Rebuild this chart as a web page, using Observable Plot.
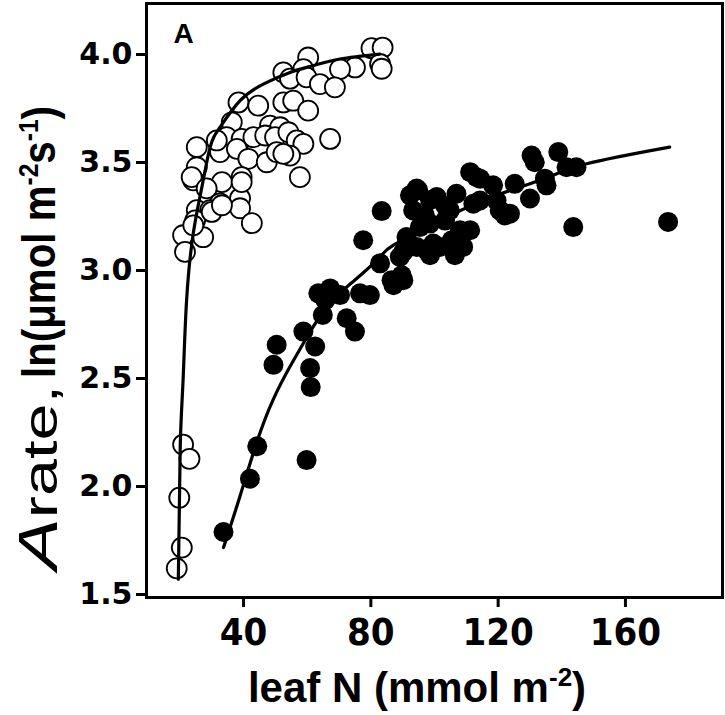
<!DOCTYPE html>
<html>
<head>
<meta charset="utf-8">
<script src="https://cdn.jsdelivr.net/npm/d3@7"></script>
<script src="https://cdn.jsdelivr.net/npm/@observablehq/plot@0.6"></script>
<style>
  html, body { margin: 0; padding: 0; background: #fff; }
  #chart svg { display: block; }
</style>
</head>
<body>
<div id="chart"></div>
<script>
// Open circles: leaf N (mmol m-2) and Arate
const openN = [80.2,83.7,82.9,83.4,75.0,70.3,60.3,58.8,52.5,54.6,59.8,64.0,68.7,38.4,44.6,52.5,55.6,60.3,36.3,48.3,51.5,34.7,39.4,43.1,46.8,49.9,54.1,56.7,58.8,67.2,25.3,32.6,37.9,41.5,47.3,50.4,54.6,52.5,25.3,39.4,57.7,31.6,24.2,33.2,23.7,28.4,25.3,32.6,29.5,38.9,38.9,42.6,21.0,27.3,21.6,24.8,30.0,33.2,24.2,39.4,21.0,23.0,19.8,20.6,19.0];
const openA = [4.043,4.046,3.970,3.948,3.954,3.946,4.000,3.946,3.931,3.902,3.908,3.877,3.862,3.792,3.777,3.792,3.800,3.754,3.700,3.685,3.677,3.631,3.623,3.631,3.639,3.631,3.654,3.616,3.600,3.623,3.585,3.562,3.577,3.531,3.515,3.562,3.546,3.554,3.492,3.446,3.446,3.616,3.431,3.423,3.446,3.394,3.293,3.325,3.293,3.348,3.302,3.233,3.177,3.168,3.100,3.246,3.285,3.316,3.223,3.423,2.208,2.142,1.962,1.731,1.635];

// Filled circles
const filledN = [33.7,42.0,44.3,59.8,50.4,49.4,60.9,61.1,58.8,62.5,64.9,65.7,67.2,72.4,75.0,76.6,79.7,87.1,90.2,83.4,77.6,82.9,86.5,94.9,93.3,98.6,91.2,97.5,63.5,70.3,94.4,100.7,106.9,90.2,89.7,98.6,101.7,108.0,112.2,111.2,113.2,118.4,119.5,122.1,125.2,130.0,130.5,134.7,138.9,141.5,144.6,143.6,173.4,109.0,103.3,99.6,105.4,114.3,120.5,123.7,131.5,135.2,95.4,94.4,89.1,97.0,104.8,98.6,106.4,111.2,103.3,114.3,92.3];
const filledA = [1.803,2.050,2.200,2.136,2.670,2.577,2.562,2.474,2.731,2.662,2.808,2.877,2.931,2.793,2.731,2.908,2.900,2.946,2.969,3.289,3.154,3.047,2.969,3.385,3.292,3.339,3.169,3.108,2.908,2.900,3.393,3.354,3.369,3.100,2.992,3.231,3.123,3.200,3.323,3.469,3.446,3.408,3.338,3.269,3.415,3.347,3.546,3.439,3.562,3.492,3.492,3.215,3.239,3.123,3.245,3.139,3.154,3.439,3.292,3.277,3.515,3.408,3.215,3.123,3.077,3.269,3.292,3.085,3.085,3.200,3.315,3.338,3.362];

// Fitted curves
const openCurveN = [19.5,20.1,21.0,22.1,24.2,26.9,29.5,32.6,38.9,46.2,54.6,61.8,70.3,82.8];
const openCurveA = [1.585,2.200,2.508,2.877,3.186,3.400,3.585,3.677,3.800,3.877,3.931,3.962,3.993,4.016];
const filledCurveN = [33.7,38.9,44.1,49.3,54.6,58.8,66.2,75.0,82.9,87.1,101.7,119.3,134.7,147.8,173.9];
const filledCurveA = [1.731,1.970,2.216,2.416,2.569,2.677,2.846,2.970,3.077,3.131,3.246,3.361,3.440,3.508,3.585];

const xTicks = [40, 80, 120, 160];
const yTicks = [1.5, 2.0, 2.5, 3.0, 3.5, 4.0];
const panelLabel = ["A"];

const zip = (xs, ys) => xs.map((x, i) => ({x, y: ys[i]}));
const openPts = zip(openN, openA);
const filledPts = zip(filledN, filledA);
const openCurve = zip(openCurveN, openCurveA);
const filledCurve = zip(filledCurveN, filledCurveA);

const svg = Plot.plot({
  width: 725,
  height: 715,
  marginLeft: 146,
  marginRight: 3,
  marginTop: 3,
  marginBottom: 118,
  x: {domain: [9.5, 190.5]},
  y: {domain: [1.5, 4.25]},
  style: {background: "white", color: "black"},
  marks: [
    Plot.dot(openPts, {x: "x", y: "y", r: 10, fill: "white", stroke: "black", strokeWidth: 1.8}),
    Plot.dot(filledPts, {x: "x", y: "y", r: 10, fill: "black", stroke: "none"}),
    Plot.line(openCurve, {x: "x", y: "y", curve: "natural", stroke: "black", strokeWidth: 3.2}),
    Plot.line(filledCurve, {x: "x", y: "y", curve: "natural", stroke: "black", strokeWidth: 3.2}),
    Plot.frame({stroke: "black", strokeWidth: 3}),
    Plot.axisX({ticks: xTicks, tickSize: 10, tickPadding: 11, strokeWidth: 3, label: null,
      fontSize: 38, fontWeight: "bold", fontFamily: "'Liberation Sans Narrow', 'DejaVu Sans Condensed', sans-serif"}),
    Plot.axisY({ticks: yTicks, tickFormat: d3.format(".1f"), tickSize: 10, tickPadding: 4, strokeWidth: 3, label: null,
      dy: -3, fontSize: 30, fontWeight: "bold", fontFamily: "'DejaVu Sans', sans-serif"}),
    Plot.text(panelLabel, {frameAnchor: "top-left", dx: 27, dy: 20, textAnchor: "start", lineAnchor: "top",
      fontSize: 28, fontWeight: "bold", fontFamily: "'Liberation Sans', Arial, sans-serif"})
  ]
});

const s = d3.select(svg);

// X axis title
const xt = s.append("text")
  .attr("x", 417).attr("y", 702)
  .attr("text-anchor", "middle")
  .attr("fill", "black")
  .attr("font-family", "'Liberation Sans', Arial, sans-serif")
  .attr("font-weight", "bold")
  .attr("font-size", 42);
xt.append("tspan").text("leaf N (mmol m");
xt.append("tspan").attr("font-size", 26).attr("dy", -16).text("-2");
xt.append("tspan").attr("dy", 16).text(")");

// Y axis title, part 1: "Arate,"
const ya = s.append("text")
  .attr("transform", "translate(57,570) rotate(-90)")
  .attr("text-anchor", "start")
  .attr("fill", "black")
  .attr("font-family", "'Liberation Sans', Arial, sans-serif")
  .attr("textLength", 185)
  .attr("lengthAdjust", "spacingAndGlyphs");
ya.append("tspan").attr("font-style", "italic").attr("font-size", 56).text("A");
ya.append("tspan").attr("font-size", 48).text("rate,");

// Y axis title, part 2: "ln(μmol m-2s-1)"
const yl = s.append("text")
  .attr("transform", "translate(55,378) rotate(-90)")
  .attr("text-anchor", "start")
  .attr("fill", "black")
  .attr("font-family", "'Liberation Sans Narrow', 'Liberation Sans', Arial, sans-serif")
  .attr("font-weight", "bold")
  .attr("font-size", 46)
  .attr("textLength", 272)
  .attr("lengthAdjust", "spacingAndGlyphs");
yl.append("tspan").text("ln(μmol m");
yl.append("tspan").attr("font-size", 28).attr("dy", -17).text("-2");
yl.append("tspan").attr("dy", 17).text("s");
yl.append("tspan").attr("font-size", 28).attr("dy", -17).text("-1");
yl.append("tspan").attr("dy", 17).text(")");

document.getElementById("chart").appendChild(svg);
</script>
</body>
</html>
